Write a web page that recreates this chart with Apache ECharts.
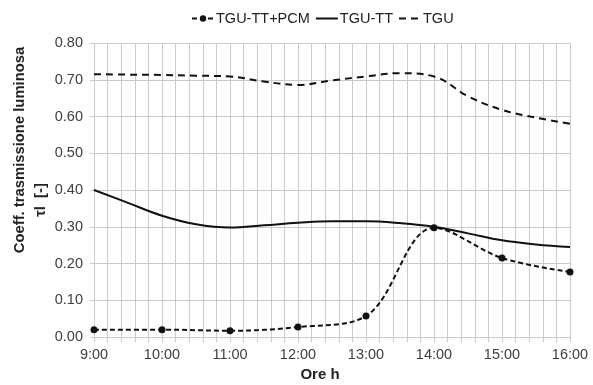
<!DOCTYPE html>
<html>
<head>
<meta charset="utf-8">
<script src="https://cdn.jsdelivr.net/npm/echarts@6/dist/echarts.min.js"></script>
<style>
html,body{margin:0;padding:0;background:#fff;}
#chart{width:593px;height:385px;}
</style>
</head>
<body>
<div id="chart"></div>
<script>
// Data
var hours = [9, 10, 11, 12, 13, 14, 15, 16];
var pcmValues = [0.020, 0.020, 0.017, 0.027, 0.057, 0.297, 0.215, 0.177];
var halfHours = [9, 9.5, 10, 10.5, 11, 11.5, 12, 12.5, 13, 13.5, 14, 14.5, 15, 15.5, 16];
var tguTTValues = [0.400, 0.365, 0.330, 0.307, 0.298, 0.304, 0.311, 0.315, 0.315, 0.310, 0.300, 0.282, 0.263, 0.252, 0.245];
var tguValues = [0.715, 0.714, 0.713, 0.711, 0.709, 0.695, 0.686, 0.698, 0.709, 0.718, 0.709, 0.655, 0.618, 0.597, 0.580];
var seriesNames = ['TGU-TT+PCM', 'TGU-TT', 'TGU'];
var yTitle = 'Coeff. trasmissione luminosa';
var yTitle2 = 'τl  [-]';
var xTitle = 'Ore h';

function pairs(xs, ys) { return xs.map(function (x, i) { return [x, ys[i]]; }); }

var chart = echarts.init(document.getElementById('chart'));
var gridCol = '#cbcbcb';
var font = 'Liberation Sans, Arial, sans-serif';
var hidden = { color: 'rgba(0,0,0,0)', borderColor: 'rgba(0,0,0,0)', borderWidth: 0 };
chart.setOption({
  animation: false,
  textStyle: { fontFamily: font },
  legend: {
    top: 6, left: 186,
    itemWidth: 22, itemHeight: 8, itemGap: 5,
    textStyle: { fontSize: 14.5, color: '#222', fontFamily: font, padding: [0, 0, 0, -3] },
    data: [
      { name: seriesNames[0] },
      { name: seriesNames[1], itemStyle: hidden },
      { name: seriesNames[2], itemStyle: hidden }
    ]
  },
  grid: { left: 94, right: 23, top: 43, bottom: 48 },
  xAxis: {
    type: 'value', min: 9, max: 16, interval: 1,
    axisLine: { show: true, lineStyle: { color: gridCol } },
    axisTick: { show: true, length: 5, lineStyle: { color: gridCol } },
    minorTick: { show: true, splitNumber: 5, length: 5, lineStyle: { color: gridCol } },
    splitLine: { show: true, lineStyle: { color: gridCol, width: 1 } },
    minorSplitLine: { show: true, lineStyle: { color: gridCol, width: 1 } },
    axisLabel: { fontSize: 14.5, color: '#404040', margin: 10, formatter: function (v) { return v + ':00'; } }
  },
  yAxis: {
    type: 'value', min: 0, max: 0.8, interval: 0.1,
    axisLine: { show: true, lineStyle: { color: gridCol } },
    axisTick: { show: true, length: 4, lineStyle: { color: gridCol } },
    splitLine: { show: true, lineStyle: { color: gridCol, width: 1 } },
    axisLabel: { fontSize: 14.5, color: '#404040', margin: 11, formatter: function (v) { return v.toFixed(2); } }
  },
  graphic: [
    { type: 'text', x: 12, y: 150, rotation: Math.PI / 2,
      style: { text: yTitle, font: 'bold 14.8px ' + font, fill: '#222', align: 'center', verticalAlign: 'top' } },
    { type: 'text', x: 33, y: 200, rotation: Math.PI / 2,
      style: { text: yTitle2, font: 'bold 14.8px ' + font, fill: '#222', align: 'center', verticalAlign: 'top' } },
    { type: 'text', x: 320, y: 367,
      style: { text: xTitle, font: 'bold 15px ' + font, fill: '#222', align: 'center', verticalAlign: 'top' } }
  ],
  series: [
    {
      name: seriesNames[0], type: 'line', data: pairs(hours, pcmValues),
      smooth: 0.35, symbol: 'circle', symbolSize: 7,
      itemStyle: { color: '#111' },
      lineStyle: { color: '#111', width: 2, type: [5, 3] }, z: 3
    },
    {
      name: seriesNames[1], type: 'line', data: pairs(halfHours, tguTTValues),
      smooth: 0.4, symbol: 'none',
      itemStyle: { color: '#111' },
      lineStyle: { color: '#111', width: 2, type: 'solid' }, z: 2
    },
    {
      name: seriesNames[2], type: 'line', data: pairs(halfHours, tguValues),
      smooth: 0.4, symbol: 'none',
      itemStyle: { color: '#111' },
      lineStyle: { color: '#111', width: 2, type: [7, 5] }, z: 2
    }
  ]
});
</script>
</body>
</html>
